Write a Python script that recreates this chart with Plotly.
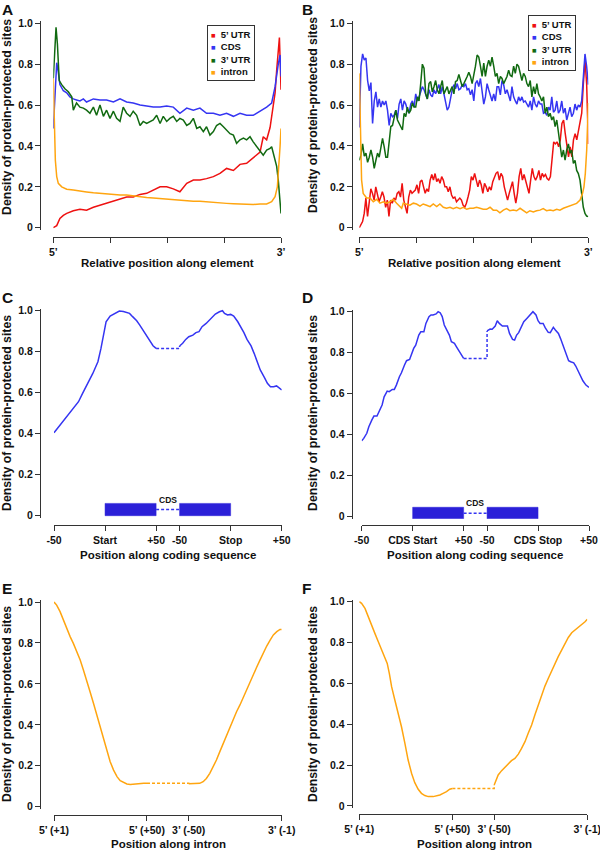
import numpy as np
import plotly.graph_objects as go

W, H = 600, 851

# ---------------- DATA ----------------
# Panel A: relative position along element (%), density
a_utr5_pos = [0, 1.5, 2.9, 4.4, 5.9, 8.8, 11.7, 14.6, 17.6, 20.5, 23.4, 26.4, 29.3, 32.2, 35.1, 38.1, 41.0, 43.9, 46.9, 49.8,
              52.7, 55.6, 58.6, 61.5, 64.4, 67.3, 70.3, 73.2, 76.1, 79.1, 82.0, 84.9, 87.8, 90.8, 92.2, 93.7, 95.2, 96.6,
              97.4, 98.1, 98.8, 99.3, 99.7, 100]
a_utr5 = [0.0, 0.01, 0.045, 0.06, 0.07, 0.083, 0.09, 0.086, 0.10, 0.11, 0.12, 0.127, 0.14, 0.15, 0.15, 0.163, 0.168, 0.185,
          0.20, 0.20, 0.19, 0.176, 0.217, 0.233, 0.233, 0.24, 0.25, 0.266, 0.29, 0.28, 0.31, 0.315, 0.34, 0.37, 0.445, 0.43,
          0.49, 0.61, 0.66, 0.77, 0.885, 0.93, 0.79, 0.675]
a_cds_pos = [0, 1.5, 2.2, 2.9, 4.4, 5.9, 7.3, 8.8, 10.2, 11.7, 13.2, 14.6, 17.6, 20.5, 23.4, 26.4, 29.3, 32.2, 35.1, 38.1,
             41.0, 43.9, 46.9, 49.8, 52.7, 55.6, 58.6, 61.5, 64.4, 67.3, 70.3, 73.2, 76.1, 79.1, 82.0, 84.9, 87.8, 90.8,
             93.7, 95.9, 97.4, 98.8, 99.6, 100]
a_cds = [0.485, 0.807, 0.76, 0.70, 0.67, 0.66, 0.64, 0.63, 0.625, 0.62, 0.63, 0.615, 0.63, 0.625, 0.625, 0.615, 0.63, 0.615,
         0.61, 0.60, 0.595, 0.59, 0.59, 0.595, 0.59, 0.56, 0.585, 0.575, 0.585, 0.56, 0.56, 0.55, 0.56, 0.545, 0.56, 0.55,
         0.55, 0.57, 0.59, 0.61, 0.69, 0.80, 0.845, 0.74]
a_utr3_pos = [0, 1.2, 1.8, 2.6, 3.7, 5.1, 6.6, 8.1, 8.8, 10.2, 11.7, 13.2, 14.6, 16.1, 17.6, 19.0, 20.5, 22.0, 23.4, 24.9,
              26.4, 27.8, 29.3, 30.7, 32.2, 33.7, 35.1, 36.6, 38.1, 39.5, 41.0, 43.9, 45.4, 46.9, 48.3, 49.8, 51.2, 52.7,
              54.2, 55.6, 57.1, 58.6, 60.0, 61.5, 63.0, 64.4, 65.9, 67.3, 68.8, 70.3, 71.7, 73.2, 74.7, 76.1, 77.6, 79.1,
              80.5, 82.0, 83.5, 84.9, 86.4, 87.8, 89.3, 90.8, 92.2, 93.7, 95.2, 95.9, 96.6, 98.1, 98.8, 99.6, 100]
a_utr3 = [0.73, 0.98, 0.90, 0.72, 0.70, 0.68, 0.665, 0.64, 0.575, 0.61, 0.59, 0.585, 0.575, 0.56, 0.59, 0.55, 0.60, 0.545,
          0.575, 0.535, 0.57, 0.535, 0.52, 0.59, 0.56, 0.545, 0.57, 0.55, 0.50, 0.52, 0.51, 0.527, 0.55, 0.51, 0.545, 0.52,
          0.535, 0.545, 0.52, 0.535, 0.527, 0.50, 0.51, 0.535, 0.486, 0.494, 0.47, 0.494, 0.453, 0.47, 0.50, 0.51, 0.494,
          0.478, 0.46, 0.453, 0.413, 0.43, 0.438, 0.43, 0.445, 0.42, 0.396, 0.372, 0.355, 0.38, 0.388, 0.396, 0.364, 0.30,
          0.233, 0.135, 0.07]
a_intron_pos = [0, 0.3, 0.6, 0.9, 1.5, 2.2, 3.7, 5.9, 8.8, 11.7, 14.6, 17.6, 20.5, 23.4, 26.4, 29.3, 32.2, 35.1, 38.1, 41.0,
                43.9, 46.9, 49.8, 52.7, 55.6, 58.6, 61.5, 64.4, 67.3, 70.3, 73.2, 76.1, 79.1, 82.0, 84.9, 87.8, 90.8, 93.7,
                95.9, 97.4, 98.4, 99.1, 99.6, 100]
a_intron = [0.73, 0.625, 0.43, 0.33, 0.25, 0.217, 0.20, 0.188, 0.184, 0.181, 0.175, 0.171, 0.168, 0.165, 0.162, 0.16, 0.16,
            0.155, 0.152, 0.148, 0.145, 0.142, 0.14, 0.139, 0.135, 0.132, 0.129, 0.129, 0.126, 0.122, 0.119, 0.119, 0.117,
            0.116, 0.113, 0.113, 0.116, 0.116, 0.127, 0.152, 0.20, 0.30, 0.40, 0.485]

# Panel B: evenly spaced bins along the element (except intron, with explicit positions)
b_utr5 = [0.0, 0.018, 0.03, 0.07, 0.145, 0.055, 0.135, 0.19, 0.168, 0.135, 0.20, 0.168, 0.127, 0.15, 0.176, 0.15, 0.10,
          0.135, 0.055, 0.135, 0.12, 0.145, 0.135, 0.168, 0.176, 0.15, 0.217, 0.135, 0.10, 0.07, 0.15, 0.184, 0.168, 0.176,
          0.184, 0.21, 0.168, 0.225, 0.233, 0.20, 0.168, 0.19, 0.176, 0.233, 0.26, 0.233, 0.265, 0.225, 0.24, 0.217, 0.25,
          0.233, 0.20, 0.20, 0.176, 0.20, 0.16, 0.145, 0.15, 0.127, 0.135, 0.145, 0.135, 0.11, 0.10, 0.12, 0.15, 0.184,
          0.25, 0.233, 0.266, 0.233, 0.20, 0.233, 0.21, 0.168, 0.217, 0.20, 0.176, 0.20, 0.184, 0.225, 0.25, 0.266, 0.274,
          0.233, 0.266, 0.25, 0.20, 0.168, 0.135, 0.168, 0.20, 0.225, 0.168, 0.12, 0.168, 0.25, 0.29, 0.233, 0.26, 0.225,
          0.20, 0.168, 0.233, 0.29, 0.25, 0.233, 0.25, 0.28, 0.233, 0.266, 0.25, 0.26, 0.24, 0.233, 0.25, 0.33, 0.42, 0.41,
          0.42, 0.396, 0.43, 0.51, 0.527, 0.46, 0.396, 0.347, 0.396, 0.347, 0.43, 0.46, 0.43, 0.478, 0.51, 0.56, 0.705,
          0.82, 0.705, 0.41]
b_cds = [0.49, 0.79, 0.85, 0.82, 0.83, 0.72, 0.67, 0.71, 0.51, 0.62, 0.665, 0.59, 0.63, 0.59, 0.62, 0.60, 0.62, 0.575, 0.50,
         0.56, 0.543, 0.55, 0.575, 0.535, 0.605, 0.63, 0.575, 0.62, 0.605, 0.575, 0.56, 0.605, 0.62, 0.59, 0.655, 0.62,
         0.64, 0.665, 0.69, 0.675, 0.65, 0.63, 0.675, 0.65, 0.64, 0.675, 0.655, 0.675, 0.70, 0.655, 0.69, 0.655, 0.62,
         0.575, 0.59, 0.64, 0.675, 0.70, 0.68, 0.705, 0.675, 0.68, 0.70, 0.69, 0.705, 0.675, 0.68, 0.65, 0.675, 0.62,
         0.705, 0.72, 0.69, 0.73, 0.665, 0.605, 0.64, 0.705, 0.675, 0.64, 0.62, 0.655, 0.62, 0.69, 0.69, 0.65, 0.72, 0.70,
         0.655, 0.675, 0.65, 0.62, 0.69, 0.64, 0.62, 0.605, 0.64, 0.62, 0.64, 0.615, 0.62, 0.605, 0.59, 0.62, 0.575, 0.64,
         0.605, 0.59, 0.62, 0.605, 0.605, 0.56, 0.565, 0.55, 0.59, 0.575, 0.64, 0.565, 0.575, 0.62, 0.56, 0.575, 0.62,
         0.56, 0.585, 0.527, 0.56, 0.59, 0.543, 0.56, 0.605, 0.575, 0.60, 0.59, 0.62, 0.76, 0.85, 0.79, 0.70]
b_utr3 = [0.33, 0.355, 0.41, 0.35, 0.365, 0.32, 0.345, 0.38, 0.345, 0.29, 0.33, 0.365, 0.345, 0.395, 0.437, 0.395, 0.345,
          0.345, 0.43, 0.495, 0.50, 0.543, 0.575, 0.527, 0.51, 0.495, 0.478, 0.56, 0.543, 0.59, 0.56, 0.575, 0.61, 0.59,
          0.59, 0.64, 0.62, 0.705, 0.80, 0.78, 0.655, 0.63, 0.705, 0.715, 0.665, 0.69, 0.72, 0.675, 0.655, 0.69, 0.72,
          0.655, 0.675, 0.69, 0.655, 0.675, 0.69, 0.655, 0.715, 0.72, 0.75, 0.72, 0.69, 0.705, 0.72, 0.74, 0.76, 0.74,
          0.705, 0.74, 0.79, 0.845, 0.835, 0.79, 0.74, 0.805, 0.74, 0.79, 0.82, 0.79, 0.835, 0.79, 0.74, 0.755, 0.705,
          0.74, 0.73, 0.705, 0.72, 0.74, 0.77, 0.745, 0.74, 0.79, 0.755, 0.80, 0.79, 0.755, 0.72, 0.755, 0.74, 0.705,
          0.69, 0.72, 0.64, 0.69, 0.655, 0.705, 0.655, 0.64, 0.62, 0.64, 0.56, 0.59, 0.543, 0.56, 0.527, 0.543, 0.495,
          0.527, 0.46, 0.41, 0.345, 0.38, 0.33, 0.38, 0.41, 0.365, 0.38, 0.315, 0.33, 0.28, 0.265, 0.233, 0.168, 0.10,
          0.07, 0.057, 0.054]
b_intron_pos = [0, 0.3, 0.6, 1.0, 1.7, 2.5, 3.2, 4.7, 6.1, 7.6, 9.0, 10.5, 11.9, 13.4, 14.8, 16.3, 17.8, 18.5, 19.2, 20.7,
                22.1, 23.6, 25.0, 26.5, 27.9, 29.4, 30.9, 32.3, 33.8, 35.2, 36.7, 38.1, 39.6, 41.0, 42.5, 44.0, 45.4, 46.9,
                48.3, 49.8, 51.2, 52.7, 54.1, 55.6, 57.1, 58.5, 60.0, 61.4, 62.9, 64.3, 65.8, 67.2, 68.7, 70.2, 71.6, 73.1,
                74.5, 76.0, 77.4, 78.9, 80.3, 81.8, 83.3, 84.7, 86.2, 87.6, 89.1, 90.5, 92.0, 93.4, 94.9, 96.4, 97.5, 98.1,
                98.7, 99.3, 99.7, 100]
b_intron = [0.755, 0.625, 0.41, 0.233, 0.168, 0.152, 0.145, 0.145, 0.127, 0.139, 0.12, 0.127, 0.12, 0.127, 0.139, 0.12,
            0.10, 0.095, 0.12, 0.116, 0.11, 0.12, 0.116, 0.106, 0.116, 0.11, 0.103, 0.116, 0.103, 0.116, 0.10, 0.095, 0.10,
            0.093, 0.10, 0.093, 0.10, 0.09, 0.095, 0.095, 0.10, 0.095, 0.09, 0.09, 0.10, 0.086, 0.086, 0.073, 0.086, 0.093,
            0.083, 0.086, 0.083, 0.095, 0.083, 0.073, 0.083, 0.077, 0.083, 0.086, 0.093, 0.083, 0.086, 0.083, 0.09, 0.086,
            0.095, 0.10, 0.106, 0.11, 0.119, 0.135, 0.168, 0.20, 0.266, 0.38, 0.543, 0.61]

# Panel C: positions relative to start codon / stop codon (nt)
c_start_pos = [-50, -46, -41, -36, -31, -26, -22, -17, -12, -7, -4, 0, 1, 5, 8, 11, 14, 18, 21, 24, 27, 31, 34, 37, 41, 44, 47, 50]
c_start_val = [0.405, 0.43, 0.459, 0.49, 0.524, 0.556, 0.597, 0.645, 0.694, 0.751, 0.816, 0.92, 0.946, 0.974, 0.982, 0.987,
               0.998, 0.996, 0.99, 0.987, 0.971, 0.951, 0.93, 0.906, 0.873, 0.849, 0.829, 0.816]
c_stop_pos = [-50, -47, -44, -41, -37, -34, -31, -28, -24, -21, -18, -15, -11, -8, -6, -3, 0, 3, 7, 10, 13, 16, 20, 23, 26,
              29, 33, 36, 39, 42, 45, 47, 50]
c_stop_val = [0.828, 0.841, 0.86, 0.873, 0.881, 0.893, 0.898, 0.922, 0.938, 0.954, 0.971, 0.984, 0.995, 1.0, 0.987, 0.979,
              0.982, 0.974, 0.946, 0.922, 0.893, 0.86, 0.828, 0.792, 0.751, 0.711, 0.675, 0.646, 0.629, 0.629, 0.633,
              0.626, 0.613]
c_box = [0.0, 0.06]
c_label_y = 0.075

# Panel D
d_start_pos = [-50, -48, -45, -43, -40, -38, -35, -33, -30, -28, -25, -23, -20, -18, -16, -13, -11, -8, -6, -3, -1, 1, 3, 6,
               8, 11, 13, 16, 18, 20, 23, 25, 27, 29, 31, 34, 36, 38, 41, 43, 47, 50]
d_start_val = [0.371, 0.382, 0.407, 0.439, 0.472, 0.491, 0.491, 0.512, 0.545, 0.585, 0.613, 0.61, 0.621, 0.621, 0.642,
               0.683, 0.702, 0.74, 0.761, 0.767, 0.797, 0.821, 0.837, 0.886, 0.902, 0.902, 0.943, 0.976, 0.984, 0.984,
               0.989, 1.0, 0.995, 0.976, 0.935, 0.907, 0.886, 0.854, 0.846, 0.829, 0.797, 0.772]
d_stop_pos = [-50, -47, -45, -42, -40, -38, -35, -33, -30, -28, -25, -23, -21, -19, -16, -14, -11, -9, -6, -5, -2, 0, 2, 5,
              7, 10, 12, 15, 17, 20, 22, 25, 27, 30, 32, 35, 37, 40, 42, 44, 47, 50]
d_stop_val = [0.906, 0.915, 0.914, 0.93, 0.956, 0.943, 0.93, 0.93, 0.93, 0.894, 0.865, 0.862, 0.886, 0.898, 0.927, 0.951,
              0.967, 0.979, 0.995, 1.0, 0.984, 0.956, 0.943, 0.943, 0.922, 0.899, 0.898, 0.924, 0.911, 0.894, 0.87,
              0.829, 0.805, 0.761, 0.756, 0.751, 0.735, 0.702, 0.683, 0.663, 0.642, 0.631]
d_box = [-0.013, 0.046]
d_label_y = 0.067

# Panel E: intron positions from 5' splice site (+1..+50) and 3' splice site (-50..-1)
e_5_pos = [1, 2.4, 4.2, 5.9, 7.7, 9.5, 11.2, 13, 14.8, 16.5, 18.3, 20, 21.8, 23.6, 25.3, 27.1, 28.9, 30.6, 32.4, 34.2,
           35.9, 37.7, 39.4, 41.2, 43, 44.7, 46.5, 48.3, 50]
e_5_val = [1.0, 0.985, 0.953, 0.912, 0.871, 0.831, 0.798, 0.757, 0.717, 0.668, 0.619, 0.562, 0.505, 0.448, 0.383, 0.326,
           0.269, 0.22, 0.179, 0.147, 0.127, 0.117, 0.111, 0.109, 0.111, 0.112, 0.112, 0.114, 0.114]
e_3_pos = [-50, -47.7, -45.9, -44.2, -42.4, -40.7, -38.9, -37.1, -35.4, -33.6, -31.8, -30.1, -28.3, -26.5, -24.8, -23,
           -21.3, -19.5, -17.7, -16, -14.2, -12.4, -10.7, -8.9, -7.1, -5.4, -3.6, -1.9, -1]
e_3_val = [0.112, 0.112, 0.111, 0.114, 0.122, 0.138, 0.163, 0.195, 0.228, 0.269, 0.309, 0.35, 0.391, 0.427, 0.464, 0.497,
           0.534, 0.57, 0.606, 0.643, 0.681, 0.717, 0.752, 0.785, 0.814, 0.839, 0.855, 0.866, 0.866]

# Panel F
f_5_pos = [1, 2.2, 4, 5.7, 7.5, 9.2, 11, 12.7, 14.5, 15.7, 16.8, 18, 19.7, 21.5, 23.2, 25, 26.7, 28.5, 30.2, 32, 33.7, 35.5,
           37.3, 39.9, 41.6, 43.4, 45.1, 46.9, 48.6, 50]
f_5_val = [1.0, 0.992, 0.967, 0.93, 0.886, 0.845, 0.804, 0.763, 0.723, 0.698, 0.649, 0.584, 0.519, 0.453, 0.388, 0.307,
           0.225, 0.16, 0.114, 0.082, 0.062, 0.051, 0.046, 0.046, 0.049, 0.054, 0.062, 0.07, 0.082, 0.086]
f_3_pos = [-50, -49.1, -47.9, -46.1, -44.4, -42.6, -40.9, -39.1, -37.3, -35.6, -33.8, -32.1, -30.3, -28.6, -26.8, -25,
           -23.3, -21.5, -19.8, -18, -16.3, -14.5, -12.7, -11, -9.2, -7.5, -5.7, -4, -2.2, -1]
f_3_val = [0.103, 0.127, 0.152, 0.173, 0.189, 0.206, 0.222, 0.233, 0.254, 0.282, 0.315, 0.356, 0.396, 0.445, 0.494, 0.543,
           0.587, 0.625, 0.662, 0.698, 0.731, 0.763, 0.796, 0.825, 0.848, 0.861, 0.873, 0.886, 0.902, 0.914]

# Labels
series_names = ["5\u2019 UTR", "CDS", "3\u2019 UTR", "intron"]
y_ticks = [0, 0.2, 0.4, 0.6, 0.8, 1.0]
y_ticktext = ["0", "0.2", "0.4", "0.6", "0.8", "1.0"]
ab_ticks = [0, 25, 50, 75, 100]
ab_ticktext = ["5\u2019", "", "", "", "3\u2019"]
c_ticktext = ["-50", "Start", "+50", "-50", "Stop", "+50"]
d_ticktext = ["-50", "CDS Start", "+50", "-50", "CDS Stop", "+50"]
ef_ticktext = ["5\u2019 (+1)", "5\u2019 (+50)", "3\u2019 (-50)", "3\u2019 (-1)"]
y_title = "Density of protein-protected sites"

# ---------------- STYLE ----------------
COL = {"utr5": "#ee1111", "cds": "#3535f2", "utr3": "#116a11", "intron": "#ffa510"}
BOX_COL = "#2b20d8"
AX = "#333333"
FONT = "Liberation Sans, Arial, sans-serif"
LW = 1.5

CDS_GAP = 23      # axis units between the two CDS segments
INTRON_GAP = 22   # axis units between the two intron segments


def px(p):
    return p / W


def py(p):
    return 1 - p / H


def cds_u1(p):
    return [v + 50 for v in p]


def cds_u2(p):
    return [v + 150 + CDS_GAP for v in p]


def int_u1(p):
    return [v - 1 for v in p]


def int_u2(p):
    return [v + 99 + INTRON_GAP for v in p]


fig = go.Figure()


def line(xa, ya, x, y, color, dash=None):
    fig.add_trace(go.Scatter(x=x, y=y, mode="lines", xaxis=xa, yaxis=ya, showlegend=False, hoverinfo="skip",
                             line=dict(color=color, width=LW, dash=dash)))


# Panel A
for pos, val, c in [(a_utr5_pos, a_utr5, "utr5"), (a_cds_pos, a_cds, "cds"),
                    (a_utr3_pos, a_utr3, "utr3"), (a_intron_pos, a_intron, "intron")]:
    n = min(len(pos), len(val))
    line("x", "y", pos[:n], val[:n], COL[c])

# Panel B
for val, c in [(b_utr5, "utr5"), (b_cds, "cds"), (b_utr3, "utr3")]:
    line("x2", "y2", list(np.linspace(0, 100, len(val))), val, COL[c])
n = min(len(b_intron_pos), len(b_intron))
line("x2", "y2", b_intron_pos[:n], b_intron[:n], COL["intron"])


# Panels C, D
def cds_panel(xa, ya, sp, sv, tp, tv, box, label_y):
    line(xa, ya, cds_u1(sp), sv, COL["cds"])
    line(xa, ya, cds_u1([sp[-1]]) + cds_u2([tp[0], tp[0]]), [sv[-1], sv[-1], tv[0]], COL["cds"], dash="3px,2px")
    line(xa, ya, cds_u2(tp), tv, COL["cds"])
    b0, b1 = box
    for xs in (cds_u1([0, 50, 50, 0, 0]), cds_u2([-50, 0, 0, -50, -50])):
        fig.add_trace(go.Scatter(x=xs, y=[b0, b0, b1, b1, b0], mode="lines", fill="toself", fillcolor=BOX_COL,
                                 line=dict(color=BOX_COL, width=0.5), xaxis=xa, yaxis=ya, showlegend=False,
                                 hoverinfo="skip"))
    mid = (b0 + b1) / 2
    line(xa, ya, cds_u1([50]) + cds_u2([-50]), [mid, mid], COL["cds"], dash="3px,2px")
    fig.add_annotation(x=(cds_u1([50])[0] + cds_u2([-50])[0]) / 2, y=label_y, xref=xa, yref=ya, text="CDS",
                       showarrow=False, font=dict(size=8.5, family=FONT, weight="bold", color="#111"))


cds_panel("x3", "y3", c_start_pos, c_start_val, c_stop_pos, c_stop_val, c_box, c_label_y)
cds_panel("x4", "y4", d_start_pos, d_start_val, d_stop_pos, d_stop_val, d_box, d_label_y)


# Panels E, F
def intron_panel(xa, ya, p5, v5, p3, v3):
    line(xa, ya, int_u1(p5), v5, COL["intron"])
    line(xa, ya, int_u1([p5[-1]]) + int_u2([p3[0], p3[0]]), [v5[-1], v5[-1], v3[0]], COL["intron"], dash="3px,2px")
    line(xa, ya, int_u2(p3), v3, COL["intron"])


intron_panel("x5", "y5", e_5_pos, e_5_val, e_3_pos, e_3_val)
intron_panel("x6", "y6", f_5_pos, f_5_val, f_3_pos, f_3_val)

# ---------------- AXES ----------------
YPAD = 0.01
tickfont = dict(family=FONT, size=10.5, color="#111", weight="bold")

cds_ticks = cds_u1([-50, 0, 50]) + cds_u2([-50, 0, 50])
int_ticks = int_u1([1, 50]) + int_u2([-50, -1])

# name, x domain px (first, last tick), x range, y px (1.0, 0), y-axis line px x, x-axis line px y, ticks
panels = [
    ("", (53.3, 281), (0, 100), (23.3, 227.7), 40, 237, ab_ticks, ab_ticktext),
    ("2", (359.3, 588.3), (0, 100), (23.3, 227.7), 351.7, 237, ab_ticks, ab_ticktext),
    ("3", (54, 281.7), (0, 200 + CDS_GAP), (310.7, 515.7), 40, 525, cds_ticks, c_ticktext),
    ("4", (361.7, 589), (0, 200 + CDS_GAP), (311.7, 516.7), 351.7, 525, cds_ticks, d_ticktext),
    ("5", (54, 281.7), (0, 98 + INTRON_GAP), (602, 806.7), 40, 815, int_ticks, ef_ticktext),
    ("6", (359.3, 587.3), (0, 98 + INTRON_GAP), (601.7, 806), 351.7, 814.3, int_ticks, ef_ticktext),
]

layout_axes = {}
for name, (xl, xr), xrng, (yt, yb), yline, xline, tv, tt in panels:
    ext = (yb - yt) * YPAD
    layout_axes["xaxis" + name] = dict(
        domain=[px(xl), px(xr)], range=list(xrng), anchor="free", position=py(xline), automargin=False,
        ticklabeloverflow="allow",
        showline=True, linecolor=AX, linewidth=1, ticks="outside", ticklen=5, tickwidth=1, tickcolor=AX,
        tickvals=tv, ticktext=tt, tickfont=tickfont, showgrid=False, zeroline=False, fixedrange=True)
    layout_axes["yaxis" + name] = dict(
        domain=[py(yb + ext), py(yt - ext)], range=[-YPAD, 1 + YPAD], anchor="free", position=px(yline),
        automargin=False, ticklabeloverflow="allow",
        showline=True, linecolor=AX, linewidth=1, ticks="outside", ticklen=5, tickwidth=1, tickcolor=AX,
        tickvals=y_ticks, ticktext=y_ticktext, tickfont=tickfont, showgrid=False, zeroline=False, fixedrange=True)

fig.update_layout(template="none", width=W, height=H, margin=dict(l=0, r=0, t=0, b=0, autoexpand=False),
                  paper_bgcolor="white", plot_bgcolor="white",
                  showlegend=False, font=dict(family=FONT), **layout_axes)

# ---------------- TEXT ----------------
def ann(x, y, text, size, angle=0, xanchor="center", yanchor="middle", **kw):
    fig.add_annotation(x=px(x), y=py(y), xref="paper", yref="paper", text=text, showarrow=False, textangle=angle,
                       xanchor=xanchor, yanchor=yanchor,
                       font=dict(family=FONT, size=size, color="#111", weight="bold"), **kw)


# panel letters
for letter, x, y in [("A", 0, 9), ("B", 300, 9), ("C", 0, 297), ("D", 300, 297), ("E", 0, 588), ("F", 300, 588)]:
    ann(x, y, letter, 15.5, xanchor="left")

# y titles
for x, y in [(7, 117), (313, 115), (7, 413), (313, 413), (7, 704), (313, 704)]:
    ann(x, y, y_title, 12.3, angle=-90)

# x titles
for x, y, t in [(167, 263, "Relative position along element"), (474, 263, "Relative position along element"),
                (168, 555, "Position along coding sequence"), (475, 555, "Position along coding sequence"),
                (168, 844, "Position along intron"), (474, 844, "Position along intron")]:
    ann(x, y, t, 11.5)

# legends
leg_cols = [COL["utr5"], COL["cds"], COL["utr3"], COL["intron"]]
leg_text = "<br>".join(
    f'<span style="color:{c};font-size:7.5px">\u25a0</span>\u00a0\u00a0{n}' for c, n in zip(leg_cols, series_names))
for x, y in [(207, 25), (528, 15)]:
    ann(x, y, leg_text, 9.5, xanchor="left", yanchor="top", align="left", bordercolor=AX, borderwidth=1,
        borderpad=3, bgcolor="white")

fig.write_html("out.html", config={"displayModeBar": False},
               post_script="document.body.style.margin='0';document.body.style.overflow='hidden';")
